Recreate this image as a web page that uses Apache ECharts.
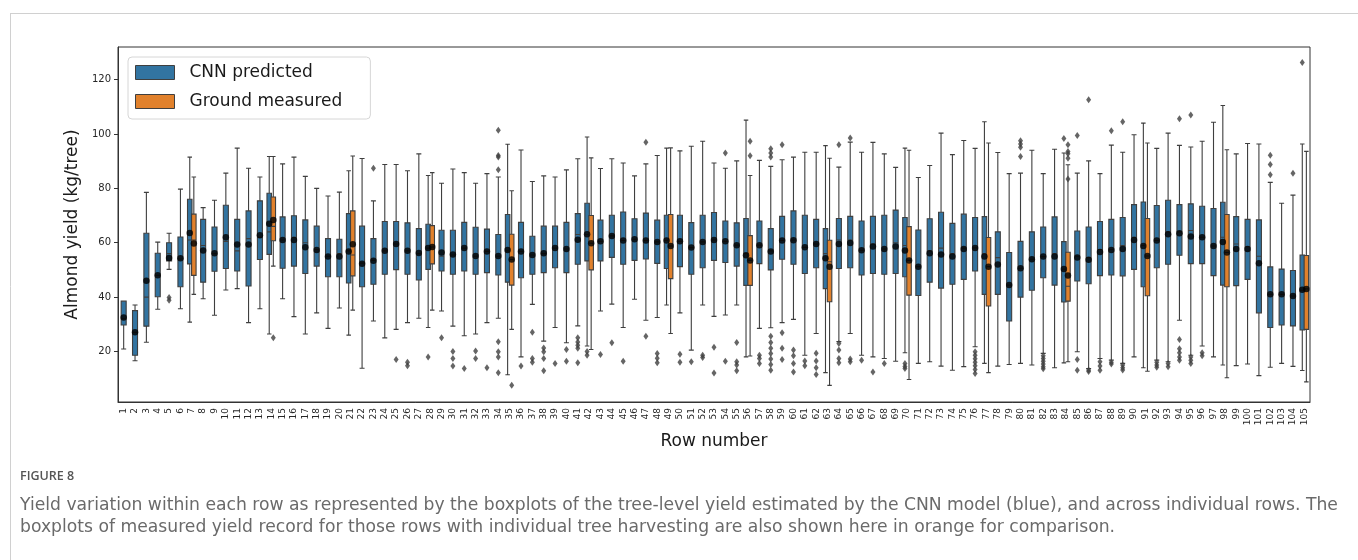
<!DOCTYPE html>
<html><head><meta charset="utf-8">
<script src="https://cdn.jsdelivr.net/npm/echarts@6/dist/echarts.min.js"></script>
<style>html,body{margin:0;padding:0;background:#fff;}#chart{width:1358px;height:560px;}</style>
</head><body><div id="chart"></div>
<script>
const rows = ['1','2','3','4','5','6','7','8','9','10','11','12','13','14','15','16','17','18','19','20',
'21','22','23','24','25','26','27','28','29','30','31','32','33','34','35','36','37','38','39','40',
'41','42','43','44','45','46','47','48','49','50','51','52','53','54','55','56','57','58','59','60',
'61','62','63','64','65','66','67','68','69','70','71','72','73','74','75','76','77','78','79','80',
'81','82','83','84','85','86','87','88','89','90','91','92','93','94','95','96','97','98','99','100',
'101','102','103','104','105'];
const yTicks = [20, 40, 60, 80, 100, 120];

const cnnLow = [20.9,16.6,23.4,35.5,50.2,35.7,30.8,39.4,33.3,42.6,
43.1,30.6,35.7,26.4,39.4,32.8,26.4,34.2,28.5,36,
26,13.8,31.2,25,28.1,30.6,32.2,28.8,34.9,29.3,
25.8,26.4,30.6,32.2,11.4,18,37.3,23.8,28.8,23.2,
29.4,22,34.9,37.4,28.8,39.2,31.5,32.5,37.1,34.2,
20.5,37.1,32.9,33.4,37.1,18,28.5,28.7,30.6,31.8,
18.6,26.6,12.2,23.6,26.6,18.6,18,17.4,16.4,19.5,
15.6,16.2,14.6,13.1,14.4,21.7,15.6,14.6,15.2,15.6,
15,19.3,14,15.8,19.9,13.7,17.4,16.8,15.6,18,
14,16.8,16.2,31.5,18.6,22,18,15,14.8,15.4,
11.1,14.2,15.6,14.5,13];
const cnnQ1 = [29.7,18.6,29.3,40.1,53.3,43.8,52.2,45.5,49.5,50.5,
49.6,44.1,53.8,55.7,50.6,51.4,48.7,51.4,47.5,47.5,
45.2,43.8,44.7,48.4,50.1,48.4,46.3,50.2,49.6,48.4,
49.6,48.4,49,48.1,45.5,47.1,48.4,49,50.8,49,
52.1,53.3,53.3,54.6,52.1,53.5,54,52.4,50.5,51.2,
48.4,50.8,53.5,52.7,51.4,44.3,52.3,50,53.9,52.1,
48.7,50.8,43.1,50.5,50.8,48.1,48.7,48.4,48.7,47.5,
40.6,45.5,43.3,44.7,46.5,49.6,41,41,31.2,40,
42.5,47.1,44.4,38.2,45.9,44.9,47.9,48.1,47.8,50.2,
43.8,50.8,52.1,55.4,52.3,52.3,47.9,44.4,44.2,46.5,
34.2,28.8,29.7,29.4,27.9];
const cnnMedian = [32,27,40,48,56,54,61,59,56,60.5,
57,61.5,62,64,61,62,60,57.5,55,56,
57,52.5,53.5,57,59.5,57,56,58,55,55.5,
58,55,56.8,55,57,56.8,55.5,56,58,57.7,
63,63,60.5,62.5,60.8,61.3,60.8,60.3,60.8,60.5,
58.2,60.3,61,60.5,59.1,56,59.1,57,60.8,61,
58.3,59.5,56,61,61,57.2,59.5,57.7,60,59,
51.2,57,58,56,58,58.1,56,54.5,44.4,50.6,
53.9,54.9,56,50.3,55,54.5,57.5,57.5,59,62,
59,60.8,64,64,64.5,62,58.8,62,59.5,58.5,
55,41,41,40.4,42.5];
const cnnQ3 = [38.5,35,63.5,56.1,60,62.1,76,68.6,65.8,73.8,
68.6,71.7,75.4,78.2,69.5,69.9,68.4,66.1,61.5,61.3,
70.7,66.1,61.5,67.8,67.8,67.3,65.2,66.8,64.6,64.6,
67.5,65.7,65,63,70.4,67.5,62.4,66.1,66.1,67.5,
70.7,74.5,68.3,70.1,71.3,68.8,70.9,68.3,70.1,70.1,
67.4,70.1,71.1,68,67.3,68.9,68,65.2,69.7,71.7,
70.1,68.6,65.2,68.9,69.7,68,69.7,70.1,72,69.3,
64.7,68.8,71.2,67.1,70.5,69.3,69.6,64,56.4,60.5,
64,65.8,69.5,60.4,64.3,65.8,67.8,68.6,69.3,74,
75,73.7,75.6,74,74.3,73.4,72.6,74.9,69.6,68.6,
68.4,51.1,50.3,49.8,55.5];
const cnnHigh = [38.5,37.1,78.5,60.2,63.5,79.7,91.5,72.9,75.6,85.6,
94.8,87.4,84.2,91.7,89,91.5,84.4,80,77.2,78.6,
86.5,91,75.4,88.8,88.8,86.5,92.7,84.7,81.9,87.1,
85.8,81.9,85.4,84.2,96.2,94.1,82.5,84.6,84.2,86.8,
90.9,98.9,87.3,90.9,89.3,84.6,89,92.1,94.8,93.8,
95.5,97.3,89.3,87.4,90.1,105.1,90.3,88.1,90.5,91.5,
93.3,93.3,95.7,87.8,97,93.3,96.9,92.7,87.7,94.8,
84,88.4,100.3,92.4,97.6,94.7,104.5,93.2,85.4,85.6,
94,85.4,94.4,93,85.6,90.1,85.4,95.9,93.3,99.7,
104,94.7,100.3,95.8,95.2,97.3,104.3,110.5,92.7,96.5,
96.3,82.2,74.5,77.5,96.3];
const cnnMean = [32.5,27.1,46,48,54.4,54.3,63.6,57.1,56.1,62,
59.3,59.3,62.7,67,61,61,58.3,57.3,54.9,54.9,
56.8,52.3,53.4,57,59.5,57,56.2,58.1,56.4,55.7,
58.1,55.1,56.8,55.1,57.3,56.8,55.5,56.1,58.1,57.7,
61.1,63.1,60.5,62.5,60.8,61.3,60.8,60.3,60.8,60.5,
58.2,60.3,61,60.5,59.1,55.4,59.1,56.8,60.8,60.9,
58.3,59.5,54.3,59.5,59.9,57.2,58.6,57.7,58.6,57.1,
51.2,56.1,55.7,54.9,57.7,58.1,54.9,52,44.4,50.6,
53.9,54.9,54.9,50.3,54.6,53.7,56.6,57.3,57.7,61,
58.8,60.8,63.1,63.5,62.3,62,58.8,60.3,57.7,57.7,
52.4,41,41,40.4,42.7];
const cnnOutliers = [['5',39.8],['5',38.8],['23',87.4],['25',17],['26',16],['26',14.7],['28',18],['29',25],
['30',20],['30',17.4],['30',14.6],['31',13.7],['32',20.2],['32',17.4],['33',14],
['34',101.4],['34',92.1],['34',91.5],['34',86.8],['34',23.6],['34',19.9],['34',18],['34',12.2],
['36',14.6],['37',27.1],['37',17.4],['37',16],['38',21.3],['38',19.9],['38',17.4],['38',12.9],['39',15.6],['40',20.7],['40',16.4],
['41',25],['41',23.5],['41',22.3],['41',21.2],['41',15.8],['42',20],['42',18.6],['43',18.9],['44',23.2],['45',16.4],['47',97],['47',25.6],
['48',19.2],['48',17.5],['48',15.8],['50',19],['50',16],['51',16.2],['52',18.6],['52',17.8],['53',21.5],['53',12.1],['54',93],['54',16.4],
['55',23.3],['55',16.2],['55',15],['55',12.9],['57',18.6],['57',17.4],['57',15.6],
['58',94.6],['58',93],['58',91.5],['58',25.6],['58',23.3],['58',21.2],['58',19.2],['58',17.2],['58',15.2],['58',13.1],
['59',96],['59',26.9],['59',21.2],['59',17],['60',20.5],['60',18.4],['60',15.6],['60',12.4],['61',16.5],['61',14.7],
['62',19.3],['62',16.5],['62',14],['62',11.5],['64',96],['64',22.9],['64',20.5],['64',17.4],['64',15.8],['65',98.5],['65',17.2],['65',16.2],
['66',16.8],['67',12.4],['68',15.6],['70',15.6],['70',14.5],['70',13.7],
['76',19.9],['76',18.6],['76',17.3],['76',16],['76',14.7],['76',13.4],['76',11.9],
['80',97.5],['80',96.3],['80',95.1],['80',91.7],['82',18.4],['82',17.4],['82',16.4],['82',15.4],['82',14.4],['82',13.6],
['84',98.3],['85',99.4],['85',17],['85',13.1],['86',112.6],['86',13.2],['86',12.6],['87',16.2],['87',14.6],['87',13.1],
['88',101.2],['88',16],['88',15.4],['89',104.5],['89',15],['89',14],['89',13.2],['92',16],['92',15],['92',14.2],['93',15.6],['93',14.4],
['94',105.6],['94',24.4],['94',21],['94',19.5],['94',18],['94',16.8],['95',107],['95',18],['95',16.8],['95',15.6],['96',19.5],['96',18.4],
['102',92.2],['102',88.8],['102',85],['104',85.6],['105',126.3]];

const groundRows = ['7','14','21','28','35','42','49','56','63','70','77','84','91','98','105'];
const groundLow = [41,51.4,35.2,35.2,28.1,20.7,26.6,18.3,7.5,9.7,12.2,16.2,12.7,10.3,8.8];
const groundQ1 = [48,60.7,47.8,52.2,44.4,50,46.8,44.3,38.3,40.7,36.7,38.5,40.5,43.8,28.1];
const groundMedian = [61,66,55.5,58.4,53.8,59.8,58.8,53.5,53,53.5,51.2,44,55.1,56.4,43];
const groundQ3 = [70.5,76.8,71.7,66.3,63.1,70,70.4,62.6,60.9,65.9,61.9,56.5,68.9,70.4,55.3];
const groundHigh = [84.2,91.7,91.9,85.8,79.1,91.2,94.9,84.7,91.1,94,96.7,88.7,96.7,94.2,93.6];
const groundMean = [59.7,68.4,59.4,58.4,53.8,59.8,58.8,53.5,51.2,53.5,51.2,47.9,55.1,56.4,43];
const groundOutliers = [['14',25],['35',7.6],['56',97.3],['56',92],['84',96],['84',93.6],['84',92.7],['84',91.1],['84',83.4]];

// ---- build library inputs ----
const paired = new Set(groundRows);
const centeredSrc = [], pairedSrc = [], centeredMean = [], pairedMean = [];
rows.forEach((r, i) => {
  const item = [r, cnnLow[i], cnnQ1[i], cnnMedian[i], cnnQ3[i], cnnHigh[i]];
  if (paired.has(r)) { pairedSrc.push(item); pairedMean.push([r, cnnMean[i]]); }
  else { centeredSrc.push(item); centeredMean.push([r, cnnMean[i]]); }
});
const groundSrc = groundRows.map((r, i) => [r, groundLow[i], groundQ1[i], groundMedian[i], groundQ3[i], groundHigh[i]]);
const groundMeanData = groundRows.map((r, i) => [r, groundMean[i]]);
const outCentered = cnnOutliers.filter(d => !paired.has(d[0]));
const outPaired = cnnOutliers.filter(d => paired.has(d[0]));

const BLUE = '#3274a1', ORANGE = '#e1812c', EDGE = '#3f3f3f';
const FONT = 'DejaVu Sans';
const dims = [{name: 'row', type: 'ordinal'}, 'low', 'q1', 'median', 'q3', 'high'];
const enc = {x: 'row', y: ['low', 'q1', 'median', 'q3', 'high']};
const OFF = 2.05;

const chart = echarts.init(document.getElementById('chart'), null, {renderer: 'canvas'});
chart.setOption({
  animation: false,
  backgroundColor: '#fff',
  textStyle: {fontFamily: FONT},
  dataset: [
    {source: centeredSrc, sourceHeader: false, dimensions: dims},
    {source: pairedSrc, sourceHeader: false, dimensions: dims},
    {source: groundSrc, sourceHeader: false, dimensions: dims}
  ],
  grid: {left: 118, right: 48, top: 47, bottom: 158, show: true, borderColor: '#333', borderWidth: 1, backgroundColor: 'transparent', outerBoundsMode: 'none'},
  legend: {
    data: [
      {name: 'CNN predicted', itemStyle: {color: BLUE, borderColor: EDGE, borderWidth: 1}},
      {name: 'Ground measured', itemStyle: {color: ORANGE, borderColor: EDGE, borderWidth: 1}}
    ],
    orient: 'vertical', left: 128, top: 57,
    padding: [7, 28, 9, 7],
    itemWidth: 39, itemHeight: 14, itemGap: 12,
    icon: 'rect',
    backgroundColor: '#fff', borderColor: '#d6d6d6', borderWidth: 1, borderRadius: 4,
    textStyle: {fontSize: 17, color: '#1a1a1a', fontFamily: FONT, padding: [0, 0, 0, 10]}
  },
  xAxis: [
    {
      type: 'category', data: rows, gridIndex: 0,
      name: 'Row number', nameLocation: 'middle', nameGap: 30,
      nameTextStyle: {fontSize: 17, color: '#1a1a1a', fontFamily: FONT},
      axisLine: {lineStyle: {color: '#333', width: 1}},
      axisTick: {alignWithLabel: true, interval: 0, length: 4, lineStyle: {color: '#333'}},
      axisLabel: {interval: 0, rotate: 90, fontSize: 9, margin: 6, color: '#262626', fontFamily: FONT},
      splitLine: {show: false}
    },
    {type: 'category', data: rows, gridIndex: 0, show: false}
  ],
  yAxis: {
    type: 'value', min: 1.4, max: 132,
    name: 'Almond yield (kg/tree)', nameLocation: 'middle', nameGap: 35,
    nameTextStyle: {fontSize: 17, color: '#1a1a1a', fontFamily: FONT},
    axisLine: {show: true, lineStyle: {color: '#333', width: 1}},
    axisTick: {show: true, length: 4, lineStyle: {color: '#333'}, customValues: yTicks},
    axisLabel: {fontSize: 10, color: '#262626', margin: 7, fontFamily: FONT, customValues: yTicks},
    splitLine: {show: false}
  },
  graphic: [
    {type: 'line', shape: {x1: 10, y1: 13.5, x2: 1358, y2: 13.5}, style: {stroke: '#d0d0d0', lineWidth: 1}, silent: true},
    {type: 'line', shape: {x1: 10.5, y1: 13, x2: 10.5, y2: 560}, style: {stroke: '#d0d0d0', lineWidth: 1}, silent: true},
    {type: 'text', left: 20, top: 470, style: {text: 'FIGURE 8', font: '600 12.5px "Open Sans"', fill: '#555'}},
    {type: 'text', left: 20, top: 497, style: {text: 'Yield variation within each row as represented by the boxplots of the tree-level yield estimated by the CNN model (blue), and across individual rows. The', font: '17.2px "DejaVu Sans"', fill: '#6a6a6a'}},
    {type: 'text', left: 20, top: 519, style: {text: 'boxplots of measured yield record for those rows with individual tree harvesting are also shown here in orange for comparison.', font: '17.2px "DejaVu Sans"', fill: '#6a6a6a'}}
  ],
  series: [
    {type: 'boxplot', name: 'CNN predicted', datasetIndex: 0, xAxisIndex: 0, encode: enc, boxWidth: [5, 5],
     itemStyle: {color: BLUE, borderColor: EDGE, borderWidth: 1.1}, emphasis: {disabled: true}, z: 2},
    {type: 'boxplot', name: 'CNN predicted', datasetIndex: 1, xAxisIndex: 1, encode: enc, boxWidth: [4.5, 4.5],
     itemStyle: {color: BLUE, borderColor: EDGE, borderWidth: 1.1}, emphasis: {disabled: true}, z: 2},
    {type: 'boxplot', name: 'Ground measured', datasetIndex: 2, xAxisIndex: 1, encode: enc, boxWidth: [4.5, 4.5],
     itemStyle: {color: ORANGE, borderColor: EDGE, borderWidth: 1.1}, emphasis: {disabled: true}, z: 2},
    {type: 'scatter', name: 'outliers', data: outCentered, xAxisIndex: 0, symbol: 'diamond', symbolSize: [5, 7],
     itemStyle: {color: EDGE}, z: 3, silent: true},
    {type: 'scatter', name: 'outliers', data: outPaired, xAxisIndex: 0, symbol: 'diamond', symbolSize: [5, 7], symbolOffset: [-OFF, 0],
     itemStyle: {color: EDGE}, z: 3, silent: true},
    {type: 'scatter', name: 'outliers', data: groundOutliers, xAxisIndex: 0, symbol: 'diamond', symbolSize: [5, 7], symbolOffset: [OFF, 0],
     itemStyle: {color: EDGE}, z: 3, silent: true},
    {type: 'scatter', name: 'mean', data: centeredMean, xAxisIndex: 0, symbol: 'circle', symbolSize: 6.5,
     itemStyle: {color: '#000'}, z: 4, silent: true},
    {type: 'scatter', name: 'mean', data: pairedMean, xAxisIndex: 0, symbol: 'circle', symbolSize: 6.5, symbolOffset: [-OFF, 0],
     itemStyle: {color: '#000'}, z: 4, silent: true},
    {type: 'scatter', name: 'mean', data: groundMeanData, xAxisIndex: 0, symbol: 'circle', symbolSize: 6.5, symbolOffset: [OFF, 0],
     itemStyle: {color: '#000'}, z: 4, silent: true}
  ]
});
</script></body></html>
